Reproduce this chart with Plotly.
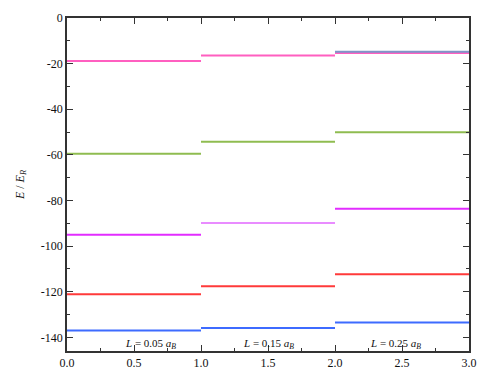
import plotly.graph_objects as go

edges = [0.0, 1.0, 2.0, 3.0]
pink = [-18.8, -16.4, -15.3]
green = [-59.5, -54.3, -50.1]
magenta = [-95.0, -89.9, -83.6]
red = [-121.1, -117.6, -112.3]
blue = [-137.0, -135.9, -133.5]
extra_seg3 = [-14.8]
labels = ["<i>L</i> = 0.05 <i>a</i><sub><i>B</i></sub>",
          "<i>L</i> = 0.15 <i>a</i><sub><i>B</i></sub>",
          "<i>L</i> = 0.25 <i>a</i><sub><i>B</i></sub>"]
label_x = [0.62, 1.5, 2.45]
label_y = -142.8
x_tick_vals = [0.0, 0.5, 1.0, 1.5, 2.0, 2.5, 3.0]
x_tick_text = ["0.0", "0.5", "1.0", "1.5", "2.0", "2.5", "3.0"]
y_tick_vals = [0, -20, -40, -60, -80, -100, -120, -140]
y_tick_text = ["0", "-20", "-40", "-60", "-80", "-100", "-120", "-140"]

FONT = "Liberation Serif, Times New Roman, serif"

fig = go.Figure()

def add_levels(vals, colors):
    for i, v in enumerate(vals):
        fig.add_trace(go.Scatter(x=[edges[i], edges[i + 1]], y=[v, v], mode="lines",
                                 line=dict(color=colors[i], width=2), showlegend=False,
                                 hoverinfo="skip"))

add_levels(pink, ["#ff5fc0", "#ff5fc0", "#ff5fc0"])
add_levels(green, ["#8fbc50", "#8fbc50", "#8fbc50"])
add_levels(magenta, ["#e22cff", "#e98cff", "#e22cff"])
add_levels(red, ["#ff3a3a", "#ff3a3a", "#ff3a3a"])
add_levels(blue, ["#3d6bff", "#3d6bff", "#3d6bff"])
fig.add_trace(go.Scatter(x=[edges[2], edges[3]], y=[extra_seg3[0]] * 2, mode="lines",
                         line=dict(color="#7f95c8", width=2), showlegend=False,
                         hoverinfo="skip"))

for t, xx in zip(labels, label_x):
    fig.add_annotation(x=xx, y=label_y, text=t, showarrow=False,
                       font=dict(family=FONT, size=11, color="#111"))

axis_common = dict(showgrid=False, zeroline=False, showline=True, linecolor="#333",
                   linewidth=1.5, mirror="ticks", ticks="inside", ticklen=6,
                   tickcolor="#333", tickwidth=1.2, automargin=False,
                   tickfont=dict(family=FONT, size=12, color="#111"))

fig.update_xaxes(range=[0, 3], tickvals=x_tick_vals, ticktext=x_tick_text,
                 minor=dict(dtick=0.25, ticks="inside", ticklen=3, tickcolor="#333"),
                 **axis_common)
fig.update_yaxes(range=[-146, 0], tickvals=y_tick_vals, ticktext=y_tick_text,
                 minor=dict(dtick=10, ticks="inside", ticklen=3, tickcolor="#333"),
                 title=dict(text="<i>E</i> / <i>E</i><sub><i>R</i></sub>",
                            font=dict(family=FONT, size=12, color="#111"),
                            standoff=14),
                 **axis_common)

fig.update_layout(width=481, height=378, margin=dict(l=67, r=12, t=18, b=27),
                  plot_bgcolor="white", paper_bgcolor="white", autosize=False)

fig.write_html("out.html", config={"responsive": False},
               post_script="document.body.style.margin='0';document.body.style.overflow='hidden';")
